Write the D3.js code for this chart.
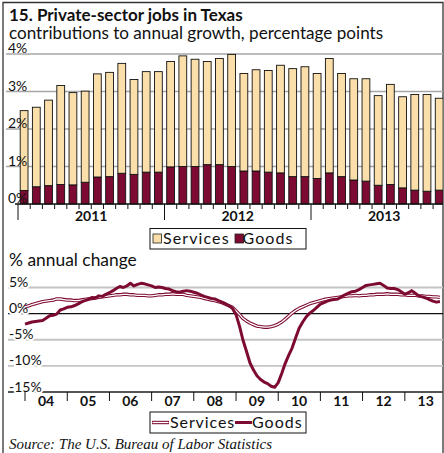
<!DOCTYPE html>
<meta charset="utf-8">
<style>
  body { margin: 0; background: #fff; }
  svg text { font-family: Lato, "Open Sans", sans-serif; fill: #111; }
</style>
<svg width="444" height="453"></svg>
<script src="https://cdn.jsdelivr.net/npm/d3@7/dist/d3.min.js"></script>
<script>
// bar chart: contributions to annual growth, Jan 2011 - Nov 2013
var barStart = new Date(2011, 0, 1);
var goodsContrib = [0.36, 0.46, 0.49, 0.52, 0.51, 0.58, 0.72, 0.73, 0.82, 0.79, 0.85, 0.85,
                    0.99, 1.00, 1.00, 1.05, 1.05, 1.00, 0.88, 0.88, 0.85, 0.83, 0.73, 0.73,
                    0.68, 0.83, 0.73, 0.64, 0.61, 0.50, 0.52, 0.43, 0.37, 0.34, 0.37];
var servicesContrib = [2.13, 2.12, 2.28, 2.64, 2.46, 2.43, 2.75, 2.78, 2.93, 2.53, 2.68, 2.68,
                       2.81, 2.95, 2.86, 2.75, 2.83, 2.99, 2.60, 2.70, 2.71, 2.87, 2.88, 2.93,
                       2.80, 3.05, 2.75, 2.70, 2.73, 2.39, 2.67, 2.43, 2.55, 2.58, 2.45];
var barTicks = [0, 1, 2, 3, 4];
var barYears = [2011, 2012, 2013];

// line chart: % annual change, monthly Jan 2004 - Nov 2013
var lineStart = new Date(2004, 0, 1);
var goodsChange = [
  -2.0, -1.8, -1.6, -1.5, -1.4, -1.3, -0.9, -0.4, -0.3, -0.1, 0.7, 0.9,
  1.2, 1.3, 1.5, 1.8, 2.2, 2.5, 2.7, 3.1, 3.0, 3.4, 3.3, 3.7,
  4.0, 4.4, 4.8, 5.2, 5.0, 5.3, 5.8, 5.3, 5.6, 5.8, 5.7, 5.5,
  5.3, 5.0, 5.1, 5.0, 4.8, 4.7, 4.4, 4.2, 4.1, 4.3, 4.4, 4.3,
  4.1, 3.9, 3.6, 3.3, 3.1, 2.9, 2.8, 2.5, 2.2, 1.9, 1.5, 1.0,
  -0.2, -2.5, -5.0, -7.2, -9.4, -10.8, -11.9, -12.6, -13.1, -13.4, -13.9, -14.1,
  -13.2, -11.4, -9.6, -8.0, -6.6, -4.6, -2.8, -1.6, -0.6, 0.1, 0.6, 1.2,
  1.8, 2.1, 2.4, 2.6, 2.7, 2.8, 3.2, 3.6, 3.9, 4.2, 4.3, 4.6,
  5.0, 5.4, 5.5, 5.6, 5.7, 5.8, 5.4, 4.9, 4.8, 4.8, 4.6, 4.2,
  3.7, 4.0, 4.4, 3.9, 3.4, 3.2, 3.0, 2.7, 2.4, 2.2, 2.3];
var servicesChange = [
  1.3, 1.5, 1.7, 1.9, 2.1, 2.3, 2.4, 2.5, 2.6, 2.8, 2.8, 2.7,
  2.6, 2.6, 2.5, 2.5, 2.6, 2.7, 2.8, 2.9, 3.0, 3.1, 3.2, 3.3,
  3.4, 3.5, 3.6, 3.6, 3.7, 3.7, 3.6, 3.6, 3.5, 3.5, 3.5, 3.4,
  3.4, 3.5, 3.6, 3.6, 3.7, 3.7, 3.8, 3.7, 3.7, 3.7, 3.5, 3.4,
  3.3, 3.2, 3.1, 2.9, 2.8, 2.6, 2.5, 2.3, 2.1, 1.8, 1.5, 1.2,
  0.5, -0.2, -0.9, -1.4, -1.8, -2.1, -2.4, -2.5, -2.6, -2.6, -2.5, -2.3,
  -2.0, -1.6, -1.1, -0.5, 0.1, 0.6, 1.0, 1.3, 1.6, 1.9, 2.1, 2.3,
  2.5, 2.7, 2.8, 2.9, 3.0, 3.1, 3.2, 3.3, 3.4, 3.4, 3.5, 3.4,
  3.5, 3.5, 3.6, 3.6, 3.7, 3.7, 3.7, 3.8, 3.7, 3.7, 3.7, 3.6,
  3.6, 3.5, 3.5, 3.5, 3.4, 3.4, 3.3, 3.3, 3.2, 3.2, 3.1];
var lineTicks = [5, 0, -5, -10, -15];
var lineYears = ["04", "05", "06", "07", "08", "09", "10", "11", "12", "13"];

var maroon = "#7d0a32", tan = "#fbdfaa";
var svg = d3.select("svg");

// frame
svg.append("path")
    .attr("d", "M3,453V2.5H443V453")
    .attr("fill", "none").attr("stroke", "#333").attr("stroke-width", 1.3);

svg.append("text").attr("x", 9).attr("y", 20.5)
    .style("font-size", "17px").style("font-weight", "bold")
    .text("15. Private-sector jobs in Texas");
svg.append("text").attr("x", 9).attr("y", 38.5)
    .style("font-size", "17.1px")
    .text("contributions to annual growth, percentage points");

// ---- bar chart ----
var months = d3.timeMonths(barStart, d3.timeMonth.offset(barStart, goodsContrib.length));
var barData = months.map(function(m, i) {
    return {month: m, goods: goodsContrib[i], services: servicesContrib[i]};
});
var series = d3.stack().keys(["goods", "services"])(barData);

var x = d3.scaleBand()
    .domain(months)
    .range([18, 445.3])
    .paddingInner(0.36)
    .paddingOuter(0.18);
var y = d3.scaleLinear().domain([0, 4]).range([204, 54]);
var colour = d3.scaleOrdinal().domain(["goods", "services"]).range([maroon, tan]);

svg.append("clipPath").attr("id", "plot")
    .append("rect").attr("x", 3).attr("y", 0).attr("width", 440).attr("height", 453);

svg.append("g").selectAll("line")
    .data(barTicks.filter(function(d) { return d > 0; }))
    .enter().append("line")
    .attr("x1", 6).attr("x2", 443)
    .attr("y1", function(d) { return y(d); }).attr("y2", function(d) { return y(d); })
    .attr("stroke", "#a6a6a6").attr("stroke-width", 1.5);

svg.append("g").attr("clip-path", "url(#plot)")
    .selectAll("g").data(series).enter().append("g")
    .attr("fill", function(d) { return colour(d.key); })
    .selectAll("rect").data(function(d) { return d; })
    .enter().append("rect")
    .attr("x", function(d) { return x(d.data.month); })
    .attr("width", x.bandwidth())
    .attr("y", function(d) { return y(d[1]); })
    .attr("height", function(d) { return y(d[0]) - y(d[1]); })
    .attr("stroke", "#111").attr("stroke-width", 0.9);

svg.append("g").selectAll("text")
    .data(barTicks).enter().append("text")
    .attr("x", 8).attr("y", function(d) { return y(d) - 1; })
    .style("font-size", "14px")
    .text(function(d) { return d + "%"; });

svg.append("line").attr("x1", 15).attr("x2", 443)
    .attr("y1", y(0)).attr("y2", y(0))
    .attr("stroke", "#111").attr("stroke-width", 1.3);

var step = x.step(), gap = (x.step() - x.bandwidth()) / 2;
svg.append("g").selectAll("line")
    .data(months).enter().append("line")
    .attr("x1", function(d) { return x(d) - gap; })
    .attr("x2", function(d) { return x(d) - gap; })
    .attr("y1", y(0))
    .attr("y2", function(d) { return d.getMonth() === 0 ? y(0) + 16 : y(0) + 5; })
    .attr("stroke", "#111").attr("stroke-width", 1);

svg.append("g").selectAll("text")
    .data(barYears).enter().append("text")
    .attr("x", function(d) { return x(new Date(d, 0, 1)) - gap + step * 6; })
    .attr("y", 221)
    .attr("text-anchor", "middle")
    .style("font-size", "14px").style("font-weight", "bold")
    .text(function(d) { return d; });

// legend 1
var leg1 = svg.append("g").attr("transform", "translate(150,228.5)");
leg1.append("rect").attr("width", 156).attr("height", 20.5)
    .attr("fill", "none").attr("stroke", "#111").attr("stroke-width", 1);
[["Services", tan, 3, 13], ["Goods", maroon, 85, 92.5]].forEach(function(l) {
    leg1.append("rect").attr("x", l[2]).attr("y", 5.5).attr("width", 8.5).attr("height", 9)
        .attr("fill", l[1]).attr("stroke", "#222").attr("stroke-width", 0.8);
    leg1.append("text").attr("x", l[3]).attr("y", 15.5)
        .style("font-size", "16px").style("letter-spacing", "1.1px").text(l[0]);
});

// ---- line chart ----
svg.append("text").attr("x", 9).attr("y", 266)
    .style("font-size", "17.4px")
    .text("% annual change");

var lx = d3.scaleTime()
    .domain([lineStart, new Date(2014, 0, 1)])
    .range([25, 447]);
var ly = d3.scaleLinear().domain([-15, 5]).range([392, 287.5]);

var lineMonths = d3.timeMonths(lineStart, d3.timeMonth.offset(lineStart, goodsChange.length));

svg.append("g").selectAll("line")
    .data(lineTicks.filter(function(d) { return d !== 0; }))
    .enter().append("line")
    .attr("x1", 8).attr("x2", 443)
    .attr("y1", function(d) { return ly(d); }).attr("y2", function(d) { return ly(d); })
    .attr("stroke", function(d) { return d === -15 ? "#555" : "#c4c4c4"; })
    .attr("stroke-width", 1.8);
svg.append("line").attr("x1", 8).attr("x2", 443)
    .attr("y1", ly(0)).attr("y2", ly(0))
    .attr("stroke", "#111").attr("stroke-width", 1.2);

svg.append("g").selectAll("text")
    .data(lineTicks).enter().append("text")
    .attr("x", 9).attr("y", function(d) { return ly(d) - 0.5; })
    .style("font-size", "14px")
    .attr("stroke", "#fff").attr("stroke-width", 4)
    .attr("paint-order", "stroke")
    .text(function(d) { return (d < 0 ? "-" + (-d) : d) + "%"; });

var line = d3.line()
    .x(function(d, i) { return lx(lineMonths[i]); })
    .y(function(d) { return ly(d); });

var lines = svg.append("g").attr("clip-path", "url(#plot)");
lines.append("path").datum(servicesChange)
    .attr("d", line).attr("fill", "none")
    .attr("stroke", maroon).attr("stroke-width", 3.4).attr("stroke-linejoin", "round");
lines.append("path").datum(servicesChange)
    .attr("d", line).attr("fill", "none")
    .attr("stroke", "#fff").attr("stroke-width", 1.3).attr("stroke-linejoin", "round");
lines.append("path").datum(goodsChange)
    .attr("d", line).attr("fill", "none")
    .attr("stroke", maroon).attr("stroke-width", 3).attr("stroke-linejoin", "round");

var yearStarts = d3.timeYears(lineStart, new Date(2014, 0, 1));
svg.append("g").selectAll("line")
    .data(yearStarts).enter().append("line")
    .attr("x1", function(d) { return lx(d); }).attr("x2", function(d) { return lx(d); })
    .attr("y1", ly(-15)).attr("y2", ly(-15) + 9)
    .attr("stroke", "#111").attr("stroke-width", 1);

svg.append("g").selectAll("text")
    .data(lineYears).enter().append("text")
    .attr("x", function(d, i) { return lx(new Date(2004 + i, 6, 1)); })
    .attr("y", 405.5)
    .attr("text-anchor", "middle")
    .style("font-size", "14px").style("font-weight", "bold")
    .text(function(d) { return d; });

// legend 2
var leg2 = svg.append("g").attr("transform", "translate(150,412)");
leg2.append("rect").attr("width", 156).attr("height", 21)
    .attr("fill", "none").attr("stroke", "#111").attr("stroke-width", 1);
leg2.append("line").attr("x1", 2).attr("x2", 19).attr("y1", 10.5).attr("y2", 10.5)
    .attr("stroke", maroon).attr("stroke-width", 3.4);
leg2.append("line").attr("x1", 2.5).attr("x2", 18.5).attr("y1", 10.5).attr("y2", 10.5)
    .attr("stroke", "#fff").attr("stroke-width", 1.3);
leg2.append("text").attr("x", 20).attr("y", 16)
    .style("font-size", "16px").style("letter-spacing", "0.9px").text("Services");
leg2.append("line").attr("x1", 85).attr("x2", 102).attr("y1", 10.5).attr("y2", 10.5)
    .attr("stroke", maroon).attr("stroke-width", 3);
leg2.append("text").attr("x", 102).attr("y", 16)
    .style("font-size", "16px").style("letter-spacing", "1px").text("Goods");

svg.append("text").attr("x", 9).attr("y", 449)
    .style("font-family", "'Liberation Serif', serif").style("font-style", "italic")
    .style("font-size", "15px")
    .text("Source: The U.S. Bureau of Labor Statistics");
</script>
